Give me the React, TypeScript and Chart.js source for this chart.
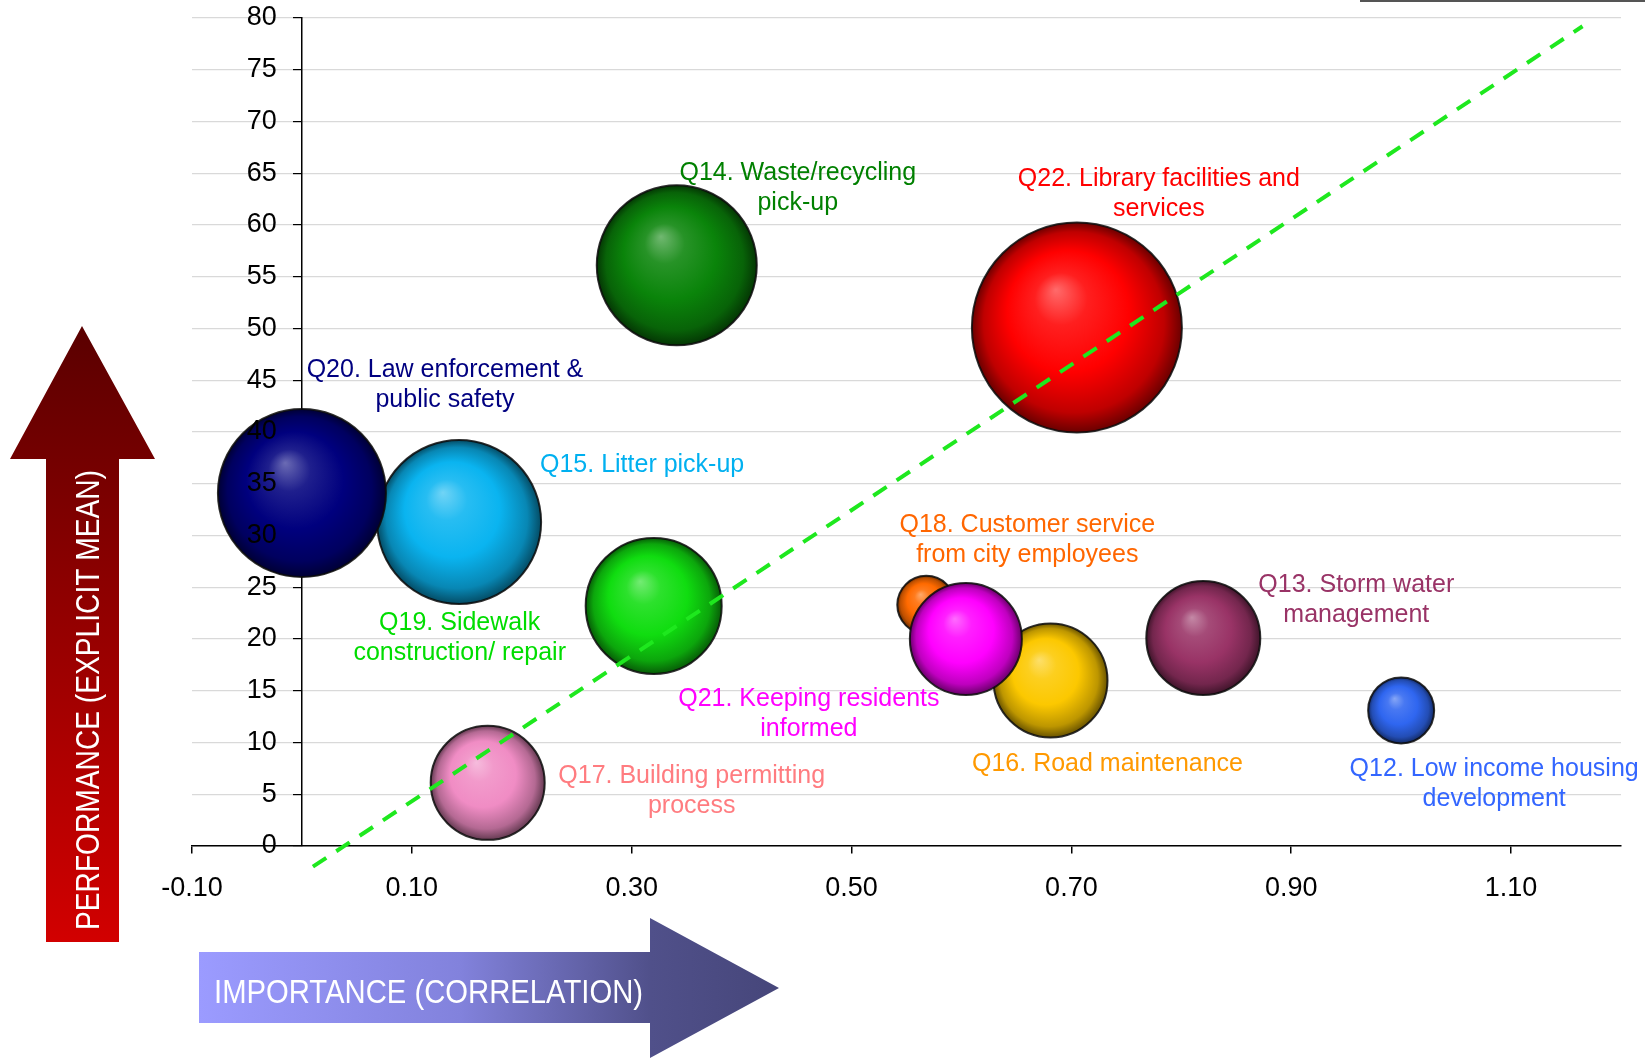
import React, { useEffect, useRef } from 'react';
import { Chart, registerables } from 'chart.js';

Chart.register(...registerables);

// ---------- data ----------
const itemLabels: string[][] = [
  ['Q12. Low income housing', 'development'],
  ['Q13. Storm water', 'management'],
  ['Q14. Waste/recycling', 'pick-up'],
  ['Q15. Litter pick-up'],
  ['Q16. Road maintenance'],
  ['Q17. Building permitting', 'process'],
  ['Q18. Customer service', 'from city employees'],
  ['Q19. Sidewalk', 'construction/ repair'],
  ['Q20. Law enforcement &', 'public safety'],
  ['Q21. Keeping residents', 'informed'],
  ['Q22. Library facilities and', 'services'],
];
const importance = [1.0, 0.82, 0.341, 0.143, 0.681, 0.169, 0.568, 0.32, 0.0, 0.604, 0.705];
const performance = [13.1, 20.1, 56.1, 31.3, 16.0, 6.1, 23.3, 23.2, 34.1, 20.0, 50.1];
const bubbleRadius = [33, 57, 80, 82, 57, 57, 29, 68, 84, 56, 105];
const bubbleColors = ['#2f66f0', '#993366', '#0a840a', '#0ab4f0', '#fcc800', '#f08cc4', '#ff6a00', '#10dd10', '#00007e', '#ff00ff', '#ff0000'];
const labelColors = ['#3366ff', '#993366', '#008000', '#00b0f0', '#ff9900', '#ff7c80', '#ff6600', '#00dd00', '#000080', '#ff00ff', '#ff0000'];
const xTickValues = [-0.1, 0.1, 0.3, 0.5, 0.7, 0.9, 1.1];
const trendX = [0.01, 1.165];
const trendY = [-2.0, 79.2];

// ---------- layout ----------
// pixel offsets of label text from bubble centre
const labelOffsets: number[][] = [
  [93, 57], [153, -55], [121, -94], [183, -59], [57, 82], [204, -9],
  [101, -82], [-194, 15], [143, -125], [-157, 58], [82, -150],
];
// x value where the y tick labels are right-aligned (just left of the y axis at x = 0)
const yLabelAnchorX = -0.0228;

function hexToRgb(hex: string): number[] {
  const h = hex.replace('#', '');
  return [0, 2, 4].map((i) => parseInt(h.slice(i, i + 2), 16));
}
function mix(hex: string, target: number[], t: number): string {
  const c = hexToRgb(hex);
  const m = c.map((v, i) => Math.round(v + (target[i] - v) * t));
  return `rgb(${m[0]},${m[1]},${m[2]})`;
}
const WHITE = [255, 255, 255];
const BLACK = [0, 0, 0];
const FONT = '"Liberation Sans", Arial, sans-serif';

export default function App() {
  const ref = useRef<HTMLCanvasElement>(null);

  useEffect(() => {
    const canvas = ref.current!;

    const sphereFill = (c: any) => {
      const i = c.dataIndex;
      const base = bubbleColors[i] || '#888888';
      const chart = c.chart;
      const xs = chart.scales?.x;
      const ys = chart.scales?.y;
      if (!xs || !ys) return base;
      const cx = xs.getPixelForValue(importance[i]);
      const cy = ys.getPixelForValue(performance[i]);
      const r = bubbleRadius[i];
      if (!isFinite(cx) || !isFinite(cy) || !isFinite(r)) return base;
      const g = chart.ctx.createRadialGradient(cx - 0.2 * r, cy - 0.36 * r, 0, cx, cy, r);
      g.addColorStop(0, mix(base, WHITE, 0.42));
      g.addColorStop(0.25, mix(base, WHITE, 0.12));
      g.addColorStop(0.58, base);
      g.addColorStop(0.86, mix(base, BLACK, 0.25));
      g.addColorStop(1, mix(base, BLACK, 0.58));
      return g;
    };

    const decorPlugin = {
      id: 'decor',
      afterDraw(chart: any) {
        const ctx = chart.ctx as CanvasRenderingContext2D;
        ctx.save();
        // top-right line
        ctx.strokeStyle = '#555555';
        ctx.lineWidth = 2;
        ctx.beginPath();
        ctx.moveTo(1360, 1);
        ctx.lineTo(1645, 1);
        ctx.stroke();

        // vertical red arrow
        const gv = ctx.createLinearGradient(0, 326, 0, 942);
        gv.addColorStop(0, '#5a0000');
        gv.addColorStop(1, '#d20000');
        ctx.fillStyle = gv;
        ctx.beginPath();
        ctx.moveTo(46, 942);
        ctx.lineTo(46, 459);
        ctx.lineTo(10, 459);
        ctx.lineTo(82, 326);
        ctx.lineTo(155, 459);
        ctx.lineTo(119, 459);
        ctx.lineTo(119, 942);
        ctx.closePath();
        ctx.fill();

        // horizontal blue arrow
        const gh = ctx.createLinearGradient(199, 0, 779, 0);
        gh.addColorStop(0, '#9b9bff');
        gh.addColorStop(0.45, '#8282dc');
        gh.addColorStop(0.78, '#50508a');
        gh.addColorStop(1, '#46467a');
        ctx.fillStyle = gh;
        ctx.beginPath();
        ctx.moveTo(199, 952);
        ctx.lineTo(650, 952);
        ctx.lineTo(650, 918);
        ctx.lineTo(779, 988);
        ctx.lineTo(650, 1058);
        ctx.lineTo(650, 1023);
        ctx.lineTo(199, 1023);
        ctx.closePath();
        ctx.fill();

        // arrow texts (condensed to fit)
        ctx.fillStyle = '#ffffff';
        ctx.font = '34px ' + FONT;
        ctx.textBaseline = 'alphabetic';
        ctx.textAlign = 'left';
        const t1 = 'IMPORTANCE (CORRELATION)';
        const w1 = ctx.measureText(t1).width;
        ctx.save();
        ctx.translate(214, 1003);
        ctx.scale(429 / w1, 1);
        ctx.fillText(t1, 0, 0);
        ctx.restore();

        const t2 = 'PERFORMANCE (EXPLICIT MEAN)';
        const w2 = ctx.measureText(t2).width;
        ctx.save();
        ctx.translate(99, 930);
        ctx.rotate(-Math.PI / 2);
        ctx.scale(460 / w2, 1);
        ctx.fillText(t2, 0, 0);
        ctx.restore();
        ctx.restore();
      },
    };

    const labelPlugin = {
      id: 'bubbleLabels',
      afterDatasetsDraw(chart: any) {
        const meta = chart.getDatasetMeta(1);
        const ctx = chart.ctx as CanvasRenderingContext2D;
        ctx.save();
        ctx.font = '25px ' + FONT;
        ctx.textAlign = 'center';
        ctx.textBaseline = 'alphabetic';
        meta.data.forEach((el: any, i: number) => {
          const [dx, dy] = labelOffsets[i];
          ctx.fillStyle = labelColors[i];
          itemLabels[i].forEach((line, k) => {
            ctx.fillText(line, el.x + dx, el.y + dy + 9 + k * 30);
          });
        });
        ctx.restore();
      },
    };

    const chart = new Chart(canvas, {
      type: 'bubble',
      data: {
        datasets: [
          {
            type: 'line',
            label: 'trend',
            data: trendX.map((x, i) => ({ x, y: trendY[i] })),
            borderColor: '#1ee81e',
            borderWidth: 4,
            borderDash: [16, 12],
            pointRadius: 0,
            fill: false,
            tension: 0,
            clip: false,
            order: 0,
          } as any,
          {
            type: 'bubble',
            label: 'items',
            data: importance.map((x, i) => ({ x, y: performance[i], r: bubbleRadius[i] })),
            backgroundColor: sphereFill,
            borderColor: 'rgba(10,10,10,0.85)',
            borderWidth: 2,
            clip: false,
            order: 1,
          } as any,
        ],
      },
      options: {
        animation: false,
        responsive: false,
        maintainAspectRatio: false,
        events: [],
        layout: { autoPadding: false, padding: { left: 192, right: 24, top: 18, bottom: 213 } },
        plugins: { legend: { display: false }, tooltip: { enabled: false } },
        scales: {
          x: {
            type: 'linear',
            min: -0.1,
            max: 1.2,
            position: { y: 0 } as any,
            afterBuildTicks: (s: any) => {
              s.ticks = xTickValues.map((v) => ({ value: v }));
            },
            grid: { drawOnChartArea: false, tickLength: 7, color: '#000000', lineWidth: 1.5 },
            border: { color: '#000000', width: 1.5 },
            ticks: {
              color: '#000000',
              font: { family: FONT, size: 27 },
              padding: 19,
              maxRotation: 0,
              autoSkip: false,
              callback: (v: any) => Number(v).toFixed(2),
            },
          },
          y: {
            type: 'linear',
            min: 0,
            max: 80,
            position: { x: 0 } as any,
            grid: { color: '#d9d9d9', lineWidth: 1.2, tickColor: '#000000', tickLength: 8 },
            border: { color: '#000000', width: 1.5 },
            ticks: { stepSize: 5, display: false },
          },
          yLabels: {
            type: 'linear',
            axis: 'y',
            min: 0,
            max: 80,
            position: { x: yLabelAnchorX } as any,
            grid: { display: false, drawTicks: false },
            border: { display: false },
            ticks: {
              stepSize: 5,
              color: '#000000',
              font: { family: FONT, size: 27 },
              padding: 0,
              z: 1,
            },
          } as any,
        },
      },
      plugins: [labelPlugin, decorPlugin],
    });

    return () => chart.destroy();
  }, []);

  return (
    <div style={{ position: 'absolute', left: 0, top: 0, width: 1645, height: 1059, overflow: 'hidden', background: '#ffffff' }}>
      <canvas ref={ref} width={1645} height={1059} style={{ display: 'block' }} />
    </div>
  );
}
